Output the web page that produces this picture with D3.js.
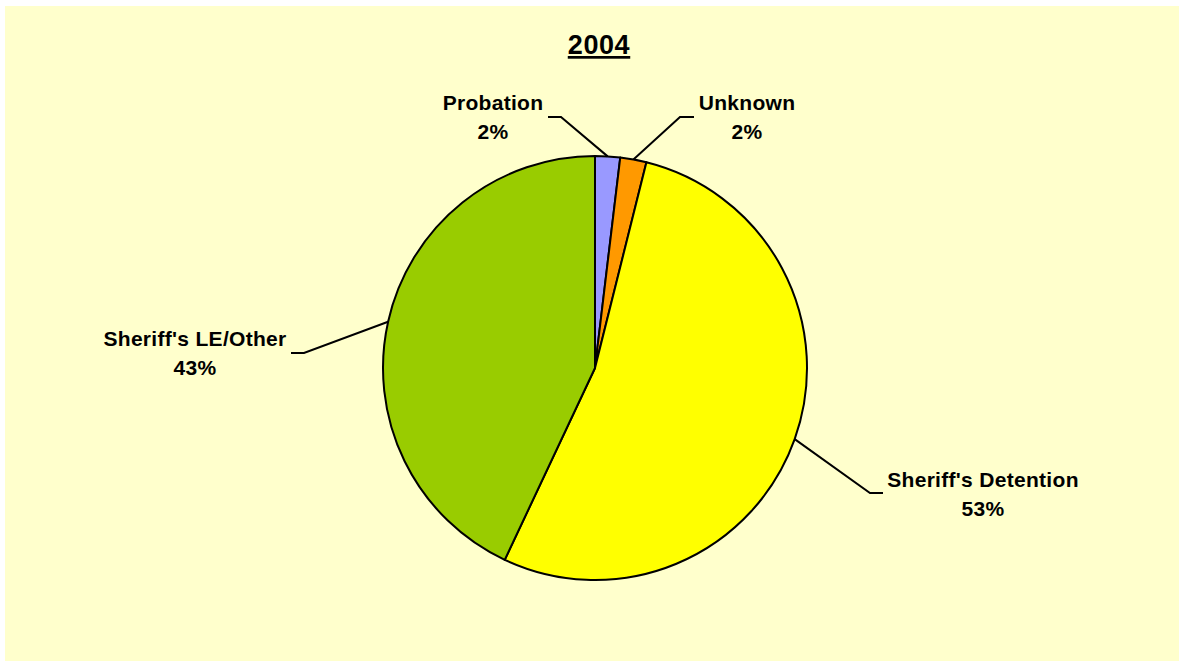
<!DOCTYPE html>
<html>
<head>
<meta charset="utf-8">
<script src="https://cdn.jsdelivr.net/npm/d3@7"></script>
<style>
  html, body { margin: 0; padding: 0; background: #ffffff; }
  svg { display: block; }
</style>
</head>
<body>
<svg id="chart" width="1184" height="663"></svg>
<script>
const title = "2004";
const categories = ["Probation", "Unknown", "Sheriff's Detention", "Sheriff's LE/Other"];
const values = [1.9, 2.0, 53.1, 43.0];
const percentLabels = ["2%", "2%", "53%", "43%"];
const colors = ["#9999FF", "#FF9900", "#FFFF00", "#99CC00"];

const svg = d3.select("#chart");
const W = 1184, H = 663;
svg.append("rect").attr("x", 5).attr("y", 6).attr("width", W - 10).attr("height", H - 8)
  .attr("fill", "#FFFFCC");

const font = "'Liberation Sans', Arial, sans-serif";

svg.append("text").attr("x", 599).attr("y", 54).attr("text-anchor", "middle")
  .attr("font-family", font).attr("font-weight", "bold").attr("font-size", 27)
  .attr("letter-spacing", 0.6)
  .attr("text-decoration", "underline").attr("fill", "#000").text(title);

const cx = 595, cy = 368, r = 212;
const data = categories.map((c, i) => ({ name: c, value: values[i], pct: percentLabels[i], color: colors[i] }));
const pie = d3.pie().value(d => d.value).sort(null);
const arcs = pie(data);
const arc = d3.arc().innerRadius(0).outerRadius(r);

const g = svg.append("g").attr("transform", `translate(${cx},${cy})`);
g.selectAll("path").data(arcs).join("path")
  .attr("d", arc).attr("fill", d => d.data.color)
  .attr("stroke", "#000").attr("stroke-width", 2).attr("stroke-linejoin", "round");

// label positions (offsets relative to pie centre) and leader-line elbow points
const labelPos = [
  { x: -102, y: -258, elbow: [-34, -251], end: [-47, -251] },
  { x: 152, y: -258, elbow: [85, -251], end: [99, -251] },
  { x: 388, y: 119, elbow: [275, 125], end: [288, 125] },
  { x: -400, y: -22, elbow: [-291, -15], end: [-304, -15] }
];

arcs.forEach((a, i) => {
  const lp = labelPos[i];
  const mid = (a.startAngle + a.endAngle) / 2;
  const px = Math.sin(mid) * r, py = -Math.cos(mid) * r;
  g.append("polyline")
    .attr("points", [[px, py], lp.elbow, lp.end].map(p => p.join(",")).join(" "))
    .attr("fill", "none").attr("stroke", "#000").attr("stroke-width", 2);
  const t = g.append("text").attr("text-anchor", "middle")
    .attr("font-family", font).attr("font-weight", "bold").attr("font-size", 21)
    .attr("letter-spacing", 0.3).attr("fill", "#000");
  t.append("tspan").attr("x", lp.x).attr("y", lp.y).text(a.data.name);
  t.append("tspan").attr("x", lp.x).attr("y", lp.y + 29).text(a.data.pct);
});
</script>
</body>
</html>
